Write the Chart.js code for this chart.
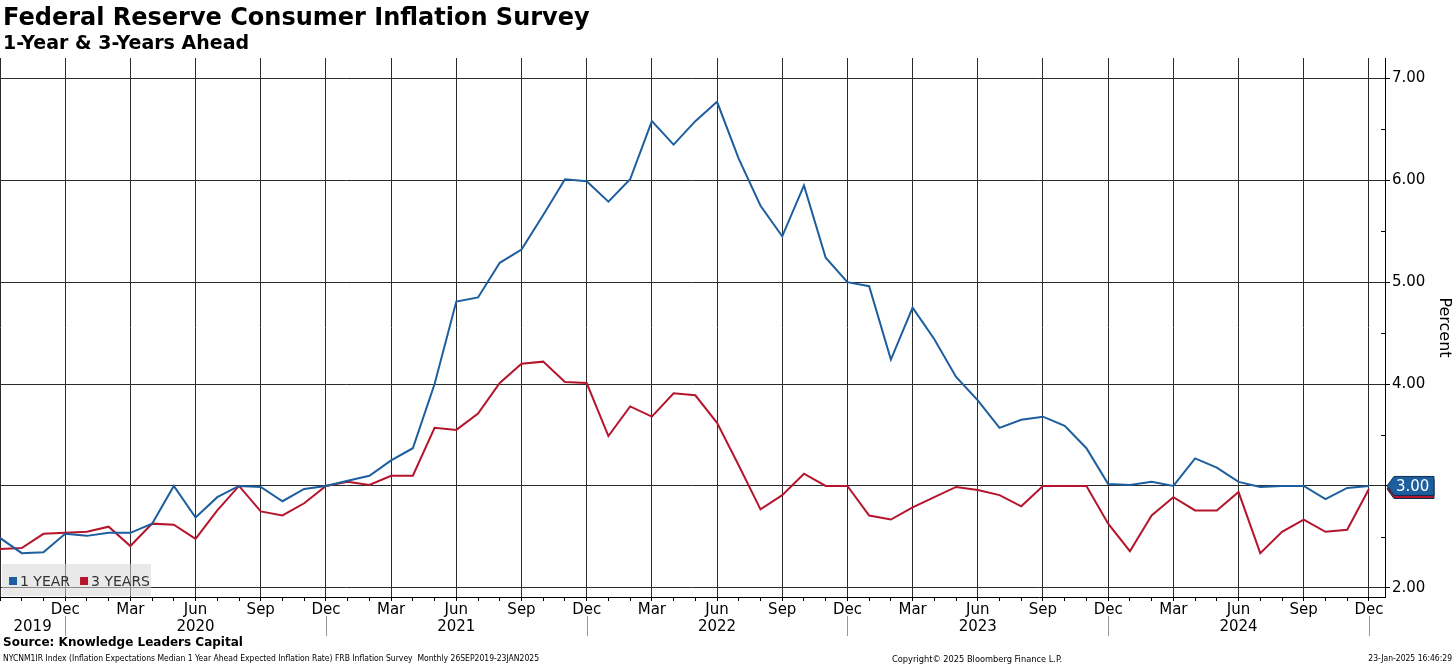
<!DOCTYPE html>
<html>
<head>
<meta charset="utf-8">
<script src="https://cdn.jsdelivr.net/npm/chart.js@4.4.1/dist/chart.umd.min.js"></script>
<style>
html, body { margin: 0; padding: 0; background: #fff; overflow: hidden; }
#wrap { position: relative; width: 1456px; height: 665px; }
#chart { position: absolute; left: 0; top: 0; }
.txt { position: absolute; font-family: "DejaVu Sans", Verdana, sans-serif; color: #000; white-space: nowrap; line-height: 1; }
.foot { font-size: 8.5px; font-family: "DejaVu Sans Condensed", "DejaVu Sans", sans-serif; }
</style>
</head>
<body>
<div id="wrap">
  <canvas id="chart" width="1456" height="665"></canvas>
  <div class="txt" style="left:3px;top:5px;font-size:24px;font-weight:bold;">Federal Reserve Consumer Inflation Survey</div>
  <div class="txt" style="left:3px;top:33px;font-size:19px;font-weight:bold;">1-Year &amp; 3-Years Ahead</div>
  <div class="txt" style="left:3px;top:636px;font-size:12px;font-weight:bold;">Source: Knowledge Leaders Capital</div>
  <div class="txt foot" style="left:3px;top:654px;">NYCNM1IR Index (Inflation Expectations Median 1 Year Ahead Expected Inflation Rate) FRB Inflation Survey&nbsp; Monthly 26SEP2019-23JAN2025</div>
  <div class="txt foot" style="left:892px;top:654px;font-size:9.2px;">Copyright© 2025 Bloomberg Finance L.P.</div>
  <div class="txt foot" style="right:4px;top:654px;">23-Jan-2025 16:46:29</div>
</div>
<script>
// monthly survey, Sep 2019 .. Dec 2024
const MONTHS = ['Jan','Feb','Mar','Apr','May','Jun','Jul','Aug','Sep','Oct','Nov','Dec'];
const categories = [];
for (let y = 2019, m = 8; y < 2025; m++) {
    if (m > 11) { m = 0; y++; if (y > 2024) break; }
    categories.push(MONTHS[m] + ' ' + y);
}

const oneYear = [
    2.49, 2.34, 2.35, 2.53, 2.51, 2.54, 2.54, 2.63, 3.00, 2.69, 2.89, 3.00,
    2.99, 2.85, 2.97, 3.00, 3.05, 3.10, 3.25, 3.37, 4.00, 4.81, 4.85, 5.19,
    5.32, 5.66, 6.01, 5.99, 5.79, 6.01, 6.58, 6.35, 6.58, 6.77, 6.21, 5.75,
    5.45, 5.95, 5.24, 5.00, 4.96, 4.24, 4.75, 4.44, 4.07, 3.84, 3.57, 3.65,
    3.68, 3.59, 3.37, 3.02, 3.01, 3.04, 3.00, 3.27, 3.18, 3.04, 2.99, 3.00,
    3.00, 2.87, 2.98, 3.00
];
const threeYears = [
    2.38, 2.39, 2.53, 2.54, 2.55, 2.60, 2.41, 2.63, 2.62, 2.48, 2.76, 3.00,
    2.75, 2.71, 2.83, 3.00, 3.04, 3.01, 3.10, 3.10, 3.57, 3.55, 3.71, 4.01,
    4.20, 4.22, 4.02, 4.01, 3.49, 3.78, 3.68, 3.91, 3.89, 3.62, 3.20, 2.77,
    2.91, 3.12, 3.00, 3.00, 2.71, 2.67, 2.79, 2.89, 2.99, 2.96, 2.91, 2.80,
    3.00, 3.00, 3.00, 2.63, 2.36, 2.71, 2.89, 2.76, 2.76, 2.94, 2.34, 2.55,
    2.67, 2.55, 2.57, 2.97
];
const yTicks = [2, 3, 4, 5, 6, 7];
const yMinorTicks = [2.5, 3.5, 4.5, 5.5, 6.5];

const FONT = '"DejaVu Sans", Verdana, sans-serif';
const BLUE = '#1c5e9e';
const RED = '#b5152c';

function monthOf(i) { return categories[i].split(' ')[0]; }
function yearOf(i) { return categories[i].split(' ')[1]; }
function isQuarter(i) { return ['Mar','Jun','Sep','Dec'].includes(monthOf(i)); }

// years, legend, minor y ticks and end tags
const extrasPlugin = {
    id: 'extras',
    afterDraw(chart) {
        const ctx = chart.ctx;
        const xs = chart.scales.x, ys = chart.scales.y;
        const area = chart.chartArea;
        ctx.save();

        ctx.strokeStyle = '#000';
        ctx.lineWidth = 1;
        yMinorTicks.forEach(v => {
            const py = Math.round(ys.getPixelForValue(v)) + 0.5;
            ctx.beginPath();
            ctx.moveTo(area.right - 4, py);
            ctx.lineTo(area.right, py);
            ctx.stroke();
        });

        // year labels and separators
        ctx.font = '15px ' + FONT;
        ctx.fillStyle = '#000';
        ctx.textAlign = 'center';
        ctx.textBaseline = 'middle';
        const years = [...new Set(categories.map((c, i) => yearOf(i)))];
        years.forEach(yr => {
            const idx = categories.map((c, i) => i).filter(i => yearOf(i) === yr);
            const jun = idx.find(i => monthOf(i) === 'Jun');
            const at = jun !== undefined ? jun : (idx[0] + idx[idx.length - 1]) / 2;
            ctx.fillText(yr, xs.getPixelForValue(at), 627);
        });
        ctx.strokeStyle = '#999';
        categories.forEach((c, i) => {
            if (monthOf(i) !== 'Dec') return;
            const px = Math.round(xs.getPixelForValue(i)) + 0.5;
            ctx.beginPath();
            ctx.moveTo(px, 616);
            ctx.lineTo(px, 636);
            ctx.stroke();
        });

        // legend box
        ctx.fillStyle = 'rgba(215,215,215,0.55)';
        ctx.fillRect(2, 564, 149, 32);
        ctx.font = '14px ' + FONT;
        ctx.textAlign = 'left';
        let lx = 9;
        chart.data.datasets.forEach(ds => {
            ctx.fillStyle = ds.borderColor;
            ctx.fillRect(lx, 577, 8, 8);
            ctx.fillStyle = '#333';
            ctx.fillText(ds.label, lx + 11, 582);
            lx += 11 + ctx.measureText(ds.label).width + 10;
        });

        // last value tags, lower series first
        const order = chart.data.datasets.map((ds, i) => i).reverse();
        order.forEach(di => {
            const ds = chart.data.datasets[di];
            const last = ds.data[ds.data.length - 1].y;
            const py = ys.getPixelForValue(last);
            const x0 = area.right + 2, x1 = x0 + 7, x2 = x0 + 47;
            ctx.beginPath();
            ctx.moveTo(x0, py);
            ctx.lineTo(x1, py - 9.5);
            ctx.lineTo(x2, py - 9.5);
            ctx.lineTo(x2, py + 9.5);
            ctx.lineTo(x1, py + 9.5);
            ctx.closePath();
            ctx.fillStyle = ds.borderColor;
            ctx.fill();
            ctx.strokeStyle = '#0d2f52';
            ctx.lineWidth = 1;
            ctx.stroke();
            ctx.fillStyle = '#fff';
            ctx.font = '15px ' + FONT;
            ctx.textAlign = 'left';
            ctx.fillText(last.toFixed(2), x1 + 2, py + 1);
        });
        ctx.restore();
    }
};

const chart = new Chart(document.getElementById('chart').getContext('2d'), {
    type: 'line',
    data: {
        datasets: [{
            label: '1 YEAR',
            data: oneYear.map((v, i) => ({ x: i, y: v })),
            borderColor: BLUE,
            borderWidth: 2,
            pointRadius: 0,
            tension: 0,
            fill: false
        }, {
            label: '3 YEARS',
            data: threeYears.map((v, i) => ({ x: i, y: v })),
            borderColor: RED,
            borderWidth: 2,
            pointRadius: 0,
            tension: 0,
            fill: false
        }]
    },
    options: {
        responsive: false,
        animation: false,
        devicePixelRatio: 1,
        layout: { padding: { top: 58, left: 0, right: 0, bottom: 0 } },
        plugins: {
            legend: { display: false },
            tooltip: { enabled: false }
        },
        scales: {
            x: {
                type: 'linear',
                min: 0,
                max: 63.74,
                afterBuildTicks: s => { s.ticks = categories.map((c, i) => ({ value: i })); },
                afterFit: s => { s.height = 68; },
                grid: {
                    color: c => (c.tick && isQuarter(c.tick.value)) ? '#2b2b2b' : 'rgba(0,0,0,0)',
                    lineWidth: 1,
                    drawTicks: true,
                    tickLength: 4,
                    tickColor: '#000'
                },
                border: { display: true, color: '#000', width: 1 },
                ticks: {
                    autoSkip: false,
                    maxRotation: 0,
                    padding: 0,
                    color: '#000',
                    font: { family: FONT, size: 15 },
                    callback: v => (v > 0 && isQuarter(v)) ? monthOf(v) : ''
                }
            },
            y: {
                position: 'right',
                min: 1.91,
                max: 7.2,
                afterBuildTicks: s => { s.ticks = yTicks.map(v => ({ value: v })); },
                afterFit: s => { s.width = 71; },
                grid: { color: '#2b2b2b', lineWidth: 1, tickLength: 5, tickColor: '#000' },
                border: { display: true, color: '#000', width: 1 },
                ticks: {
                    padding: 2,
                    color: '#000',
                    font: { family: FONT, size: 15 },
                    callback: v => v.toFixed(2)
                },
                title: {
                    display: true,
                    text: 'Percent',
                    color: '#000',
                    font: { family: FONT, size: 16 },
                    padding: { top: 2, bottom: 2 }
                }
            }
        }
    },
    plugins: [extrasPlugin]
});
</script>
</body>
</html>
